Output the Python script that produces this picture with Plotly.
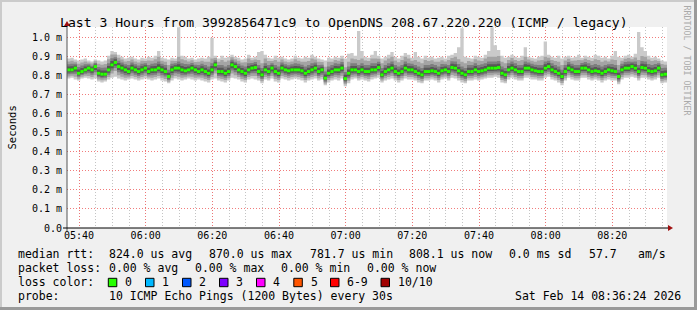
import pandas as pd
import plotly.graph_objects as go

# ---------------- data (milliseconds) ----------------
start_time = "2026-02-14 05:36:24"
n_minutes = 180

median_rtt = [
    0.831, 0.831, 0.840, 0.813, 0.822, 0.831, 0.840, 0.831, 0.848, 0.813,
    0.808, 0.808, 0.831, 0.857, 0.870, 0.848, 0.840, 0.831, 0.822, 0.840,
    0.831, 0.822, 0.831, 0.840, 0.822, 0.831, 0.831, 0.840, 0.831, 0.822,
    0.796, 0.831, 0.840, 0.840, 0.831, 0.826, 0.831, 0.840, 0.831, 0.822,
    0.831, 0.822, 0.813, 0.831, 0.857,
    0.822, 0.822, 0.813, 0.822, 0.857, 0.848, 0.831, 0.822, 0.813, 0.831,
    0.840, 0.843, 0.822, 0.805, 0.831, 0.822, 0.840, 0.822, 0.813, 0.840,
    0.831, 0.826, 0.831, 0.831, 0.831, 0.826, 0.813, 0.822, 0.831, 0.840,
    0.822, 0.831, 0.787, 0.813, 0.822, 0.831, 0.831, 0.840, 0.785, 0.813,
    0.831, 0.831, 0.822, 0.831, 0.822,
    0.822, 0.831, 0.831, 0.843, 0.805, 0.822, 0.831, 0.840, 0.822, 0.813,
    0.822, 0.840, 0.831, 0.831, 0.822, 0.813, 0.805, 0.822, 0.822, 0.826,
    0.822, 0.813, 0.826, 0.831, 0.822, 0.843, 0.840, 0.826, 0.813, 0.805,
    0.822, 0.822, 0.831, 0.822, 0.826, 0.831, 0.840, 0.840, 0.840, 0.843,
    0.813, 0.805, 0.831, 0.840, 0.831,
    0.822, 0.822, 0.840, 0.840, 0.831, 0.826, 0.822, 0.822, 0.840, 0.848,
    0.831, 0.822, 0.813, 0.796, 0.822, 0.840, 0.831, 0.822, 0.822, 0.840,
    0.840, 0.831, 0.822, 0.826, 0.822, 0.813, 0.822, 0.831, 0.826, 0.822,
    0.796, 0.831, 0.840, 0.840, 0.848, 0.840, 0.822, 0.843, 0.840, 0.826,
    0.822, 0.826, 0.840, 0.805, 0.808,
]

smoke_max = [
    0.890, 0.895, 0.885, 0.880, 0.885, 0.890, 0.880, 0.875, 0.885, 0.880,
    0.875, 0.880, 0.905, 0.930, 0.925, 0.910, 0.900, 0.890, 0.895, 0.900,
    0.890, 0.885, 0.895, 0.890, 0.900, 0.895, 0.905, 0.930, 0.895, 0.890,
    0.885, 0.895, 0.890, 1.055, 0.905, 0.900, 0.890, 0.895, 0.885, 0.890,
    0.895, 0.890, 0.900, 1.000, 0.905, 0.890, 0.905, 0.895, 0.900, 0.910,
    0.900, 0.895, 0.885, 0.890, 0.910, 0.895, 0.900, 0.925, 0.930, 0.910,
    0.895, 0.890, 0.905, 0.895, 0.900, 0.890, 0.885, 0.890, 0.905, 0.895,
    0.890, 0.900, 0.895, 0.910, 0.900, 0.890, 0.885, 0.880, 0.895, 0.890,
    0.900, 0.895, 0.905, 0.890, 0.915, 0.920, 0.905, 1.035, 0.930, 0.900,
    0.895, 0.910, 0.930, 0.905, 0.890, 0.900, 0.910, 0.925, 0.900, 0.890,
    0.905, 0.920, 0.910, 0.895, 0.925, 0.900, 0.890, 0.905, 0.895, 0.900,
    0.890, 0.895, 0.900, 0.890, 0.905, 0.910, 0.920, 0.950, 1.050, 0.900,
    0.895, 0.890, 0.905, 0.900, 0.895, 0.910, 0.930, 1.055, 0.960, 0.935,
    0.905, 0.895, 0.900, 0.910, 0.900, 0.895, 0.905, 0.950, 0.900, 0.895,
    0.890, 0.900, 0.905, 0.980, 0.910, 0.900, 0.895, 0.905, 0.890, 0.900,
    0.905, 0.895, 0.900, 0.910, 0.895, 0.905, 0.900, 0.895, 0.910, 0.905,
    0.895, 0.900, 0.890, 0.905, 0.930, 0.900, 0.895, 0.905, 0.910, 0.900,
    0.915, 1.030, 0.950, 0.930, 0.905, 0.895, 0.900, 0.890, 0.880, 0.875,
]

smoke_min = [
    0.785, 0.790, 0.780, 0.775, 0.785, 0.790, 0.785, 0.780, 0.785, 0.770,
    0.765, 0.770, 0.780, 0.790, 0.795, 0.785, 0.780, 0.775, 0.780, 0.785,
    0.780, 0.775, 0.780, 0.785, 0.780, 0.775, 0.780, 0.785, 0.775, 0.770,
    0.760, 0.775, 0.785, 0.780, 0.775, 0.780, 0.785, 0.780, 0.775, 0.780,
    0.775, 0.770, 0.765, 0.780, 0.785, 0.775, 0.770, 0.765, 0.775, 0.790,
    0.785, 0.780, 0.770, 0.765, 0.780, 0.785, 0.780, 0.775, 0.760, 0.780,
    0.775, 0.785, 0.770, 0.765, 0.785, 0.780, 0.775, 0.780, 0.785, 0.780,
    0.775, 0.765, 0.775, 0.780, 0.785, 0.775, 0.780, 0.750, 0.765, 0.775,
    0.780, 0.775, 0.785, 0.745, 0.760, 0.780, 0.785, 0.775, 0.780, 0.775,
    0.770, 0.780, 0.785, 0.790, 0.765, 0.775, 0.780, 0.785, 0.775, 0.765,
    0.775, 0.785, 0.780, 0.780, 0.775, 0.765, 0.760, 0.775, 0.775, 0.780,
    0.775, 0.765, 0.780, 0.785, 0.775, 0.790, 0.785, 0.775, 0.765, 0.760,
    0.775, 0.775, 0.780, 0.775, 0.780, 0.785, 0.790, 0.790, 0.795, 0.790,
    0.765, 0.760, 0.780, 0.790, 0.780, 0.775, 0.775, 0.790, 0.790, 0.780,
    0.780, 0.775, 0.775, 0.790, 0.795, 0.780, 0.775, 0.765, 0.750, 0.775,
    0.790, 0.780, 0.775, 0.775, 0.790, 0.790, 0.780, 0.775, 0.780, 0.775,
    0.765, 0.775, 0.780, 0.775, 0.775, 0.755, 0.780, 0.790, 0.790, 0.795,
    0.790, 0.775, 0.790, 0.790, 0.780, 0.775, 0.780, 0.790, 0.760, 0.765,
]

# estimated share of the outer smoke range covered by each inner band,
# with the largest spread (ms) seen for that band above / below the median
inner_share = [0.75, 0.50, 0.30, 0.12]
inner_cap_up = [0.060, 0.035, 0.020, 0.008]
inner_cap_dn = [0.045, 0.030, 0.018, 0.007]
smoke_colors = ["#cacaca", "#a4a4a4", "#7e7e7e", "#585858", "#323232"]

y_tickvals = [0.0, 0.1, 0.2, 0.3, 0.4, 0.5, 0.6, 0.7, 0.8, 0.9, 1.0]
y_ticktext = ["0.0", "0.1 m", "0.2 m", "0.3 m", "0.4 m", "0.5 m",
              "0.6 m", "0.7 m", "0.8 m", "0.9 m", "1.0 m"]
x_ticktimes = ["05:40", "06:00", "06:20", "06:40", "07:00", "07:20",
               "07:40", "08:00", "08:20"]

title_text = "Last 3 Hours from 3992856471c9 to OpenDNS 208.67.220.220 (ICMP / legacy)"
legend_rows = [
    [(16, "median rtt:"), (107, "824.0 us avg"), (207.3, "870.0 us max"),
     (307.5, "781.7 us min"), (407.3, "808.1 us now"), (507.3, "0.0 ms sd"),
     (586.7, "57.7"), (636, "am/s")],
    [(16, "packet loss:"), (107, "0.00 % avg"), (193.3, "0.00 % max"),
     (279.3, "0.00 % min"), (365.3, "0.00 % now")],
    [(16, "loss color:")],
    [(16, "probe:"), (107, "10 ICMP Echo Pings (1200 Bytes) every 30s"),
     (513, "Sat Feb 14 08:36:24 2026")],
]
loss_labels = ["0", "1", "2", "3", "4", "5", "6-9", "10/10"]
loss_colors = ["#26ff00", "#00b8ff", "#0059ff", "#7e00ff", "#ff00ff",
               "#ff5500", "#ff0000", "#a10000"]
loss_box_x = [108.3, 145.5, 182.5, 219.5, 256.5, 293.8, 330.5, 381.0]

# ---------------- geometry ----------------
W, H = 697, 310
L, R, T, B = 67, 667, 27, 228
PW, PH = R - L, B - T


def px(x):
    return (x - L) / PW


def py(y):
    return (B - y) / PH


MONO = "DejaVu Sans Mono"

t0 = pd.Timestamp(start_time)
times = list(pd.date_range(t0, periods=n_minutes + 1, freq="min"))
t_end = times[-1]


def ext(v):
    return list(v) + [v[-1]]


fig = go.Figure()

# smoke bands (outer -> inner)
bands = [(smoke_min, smoke_max)]
for f, cu, cd in zip(inner_share, inner_cap_up, inner_cap_dn):
    lo = [m - min(f * (m - a), cd) for a, m in zip(smoke_min, median_rtt)]
    hi = [m + min(f * (b - m), cu) for b, m in zip(smoke_max, median_rtt)]
    bands.append((lo, hi))

for (lo, hi), col in zip(bands, smoke_colors):
    fig.add_trace(go.Scatter(x=times, y=ext(lo), mode="lines",
                             line=dict(width=0, shape="hv"),
                             hoverinfo="skip", showlegend=False))
    fig.add_trace(go.Scatter(x=times, y=ext(hi), mode="lines",
                             line=dict(width=0, shape="hv"),
                             fill="tonexty", fillcolor=col,
                             hoverinfo="skip", showlegend=False))

# median as horizontal green segments
mx, my = [], []
for i, v in enumerate(median_rtt):
    mx += [times[i], times[i + 1], None]
    my += [v, v, None]
fig.add_trace(go.Scatter(x=mx, y=my, mode="lines",
                         line=dict(color="#26ff00", width=3),
                         hoverinfo="skip", showlegend=False))

major_ticks = [pd.Timestamp("2026-02-14 " + s) for s in x_ticktimes]

fig.update_layout(
    width=W, height=H,
    margin=dict(l=L, r=W - R, t=T, b=H - B),
    paper_bgcolor="#f0f0f0",
    plot_bgcolor="#ffffff",
    showlegend=False,
    xaxis=dict(
        type="date", range=[t0, t_end],
        tickvals=major_ticks, ticktext=x_ticktimes,
        tickfont=dict(family=MONO, size=10, color="#000000"),
        showgrid=True, gridcolor="rgba(240,110,110,0.9)", griddash="1px,2px",
        gridwidth=1, zeroline=False, showline=False, ticks="",
        minor=dict(dtick=300000, tick0="2026-02-14 05:40:00", showgrid=True,
                   gridcolor="#c4c4c4", griddash="1px,2px", gridwidth=1),
        fixedrange=True,
    ),
    yaxis=dict(
        range=[0, 1.056], tickvals=y_tickvals, ticktext=y_ticktext,
        tickfont=dict(family=MONO, size=10, color="#000000"),
        showgrid=True, gridcolor="rgba(240,110,110,0.9)", griddash="1px,2px",
        gridwidth=1, zeroline=False, showline=False, ticks="",
        ticklabelstandoff=4,
        fixedrange=True,
    ),
)

shapes = []
# frame shading
shapes.append(dict(type="rect", xref="paper", yref="paper", x0=px(0), x1=px(W), y0=py(0), y1=py(2),
                   fillcolor="#cbcbcb", line=dict(width=0), layer="below"))
shapes.append(dict(type="rect", xref="paper", yref="paper", x0=px(0), x1=px(2), y0=py(0), y1=py(H),
                   fillcolor="#cbcbcb", line=dict(width=0), layer="below"))
shapes.append(dict(type="rect", xref="paper", yref="paper", x0=px(694), x1=px(W), y0=py(0), y1=py(H),
                   fillcolor="#9a9a9a", line=dict(width=0), layer="below"))
shapes.append(dict(type="rect", xref="paper", yref="paper", x0=px(0), x1=px(W), y0=py(307), y1=py(H),
                   fillcolor="#9a9a9a", line=dict(width=0), layer="below"))
# axes lines
shapes.append(dict(type="line", xref="paper", yref="paper", x0=px(67), x1=px(67), y0=py(231), y1=py(24),
                   line=dict(color="#555555", width=1)))
shapes.append(dict(type="line", xref="paper", yref="paper", x0=px(63), x1=px(669), y0=py(228), y1=py(228),
                   line=dict(color="#000000", width=1)))
# arrows
shapes.append(dict(type="path", xref="paper", yref="paper",
                   path=f"M {px(64)} {py(26)} L {px(70)} {py(26)} L {px(67)} {py(21)} Z",
                   fillcolor="#a01010", line=dict(width=0)))
shapes.append(dict(type="path", xref="paper", yref="paper",
                   path=f"M {px(668)} {py(225)} L {px(668)} {py(231)} L {px(673)} {py(228)} Z",
                   fillcolor="#a01010", line=dict(width=0)))
# loss color boxes
for bx, col in zip(loss_box_x, loss_colors):
    shapes.append(dict(type="rect", xref="paper", yref="paper",
                       x0=px(bx), x1=px(bx + 8.5), y0=py(278.3), y1=py(286.7),
                       fillcolor=col, line=dict(color="#000000", width=1)))
fig.update_layout(shapes=shapes)

ann = []
ann.append(dict(text=title_text, x=px(343.7), y=py(22), xref="paper", yref="paper",
                xanchor="center", yanchor="middle", showarrow=False,
                font=dict(family=MONO, size=13.1, color="#000000")))
ann.append(dict(text="Seconds", x=px(11), y=py(127.5), xref="paper", yref="paper",
                xanchor="center", yanchor="middle", showarrow=False, textangle=-90,
                font=dict(family=MONO, size=10.5, color="#000000")))
ann.append(dict(text="RRDTOOL / TOBI OETIKER", x=px(686.5), y=py(60), xref="paper", yref="paper",
                xanchor="center", yanchor="middle", showarrow=False, textangle=90,
                font=dict(family=MONO, size=8.3, color="#aaaaaa")))
row_y = [254.3, 268.3, 282.3, 296.3]
for yy, row in zip(row_y, legend_rows):
    for xx, txt in row:
        ann.append(dict(text=txt, x=px(xx), y=py(yy), xref="paper", yref="paper",
                        xanchor="left", yanchor="middle", showarrow=False,
                        font=dict(family=MONO, size=11.5, color="#000000")))
for bx, lab in zip(loss_box_x, loss_labels):
    ann.append(dict(text=lab, x=px(bx + 14.7), y=py(282.3), xref="paper", yref="paper",
                    xanchor="left", yanchor="middle", showarrow=False,
                    font=dict(family=MONO, size=11.5, color="#000000")))
fig.update_layout(annotations=ann)

fig.write_html("out.html")
